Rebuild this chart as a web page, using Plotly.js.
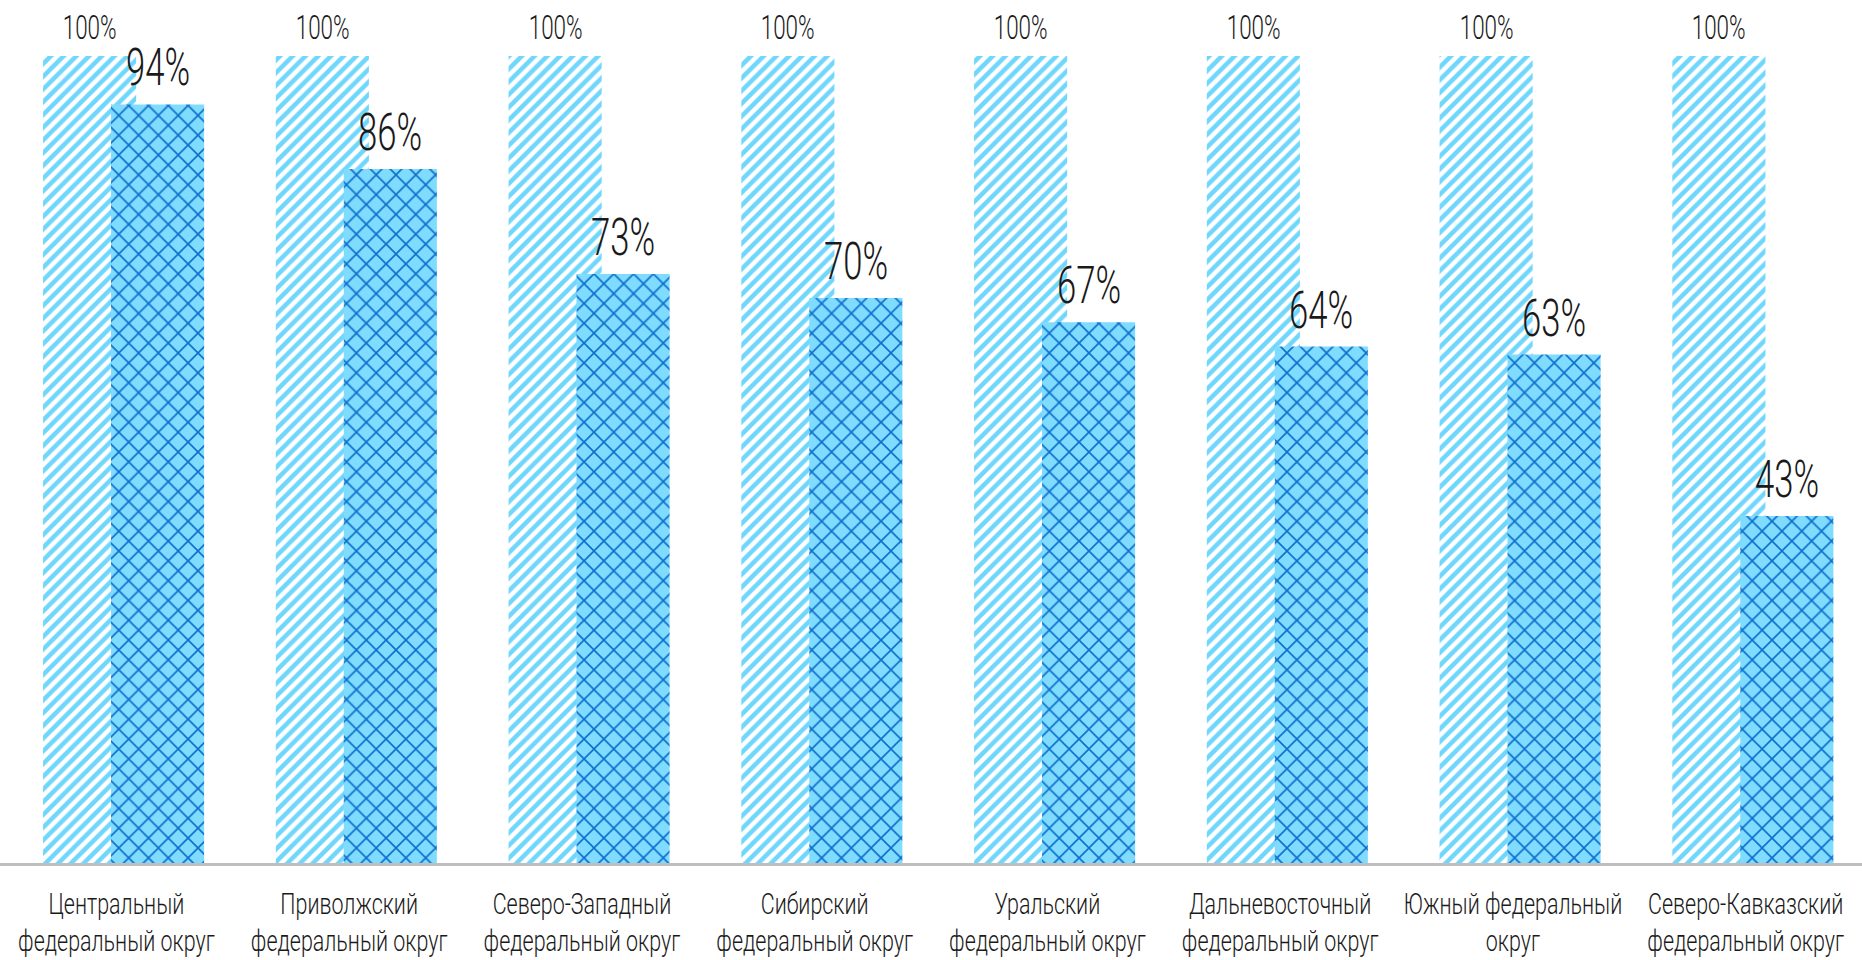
<!DOCTYPE html>
<html>
<head>
<meta charset="utf-8">
<script src="https://cdn.plot.ly/plotly-3.0.1.min.js"></script>
<style>
  html, body { margin: 0; padding: 0; background: #ffffff; }
  #chart { width: 1862px; height: 960px; }
  /* condensed look: narrow each text around its own centre */
  #chart text.annotation-text {
    transform-box: fill-box; transform-origin: 50% 50%; transform: scaleX(0.68);
  }
  #chart g.xtick {
    transform-box: fill-box; transform-origin: 50% 50%; transform: scaleX(0.74);
  }
</style>
</head>
<body>
<div id="chart"></div>
<script>
// ---- data ----
const categories = [
  "Центральный<br>федеральный округ",
  "Приволжский<br>федеральный округ",
  "Северо-Западный<br>федеральный округ",
  "Сибирский<br>федеральный округ",
  "Уральский<br>федеральный округ",
  "Дальневосточный<br>федеральный округ",
  "Южный федеральный<br>округ",
  "Северо-Кавказский<br>федеральный округ"
];
const baseValues = [100, 100, 100, 100, 100, 100, 100, 100];
const shareValues = [94, 86, 73, 70, 67, 64, 63, 43];

// ---- styles ----
const FONT = 'Roboto, "Liberation Sans", sans-serif';
const BAR_W = 0.40;
const OFF_BASE = -0.315;
const OFF_SHARE = -0.023;

const idx = categories.map((_, i) => i);

const traceBase = {
  type: 'bar',
  x: idx,
  y: baseValues,
  width: BAR_W,
  offset: OFF_BASE,
  marker: {
    color: '#6fd6fc',
    line: { width: 0 },
    pattern: { shape: '/', fgcolor: '#6fd6fc', bgcolor: '#ffffff', size: 9, solidity: 0.5, fillmode: 'replace' }
  },
  hoverinfo: 'skip',
  showlegend: false
};

const traceShare = {
  type: 'bar',
  x: idx,
  y: shareValues,
  width: BAR_W,
  offset: OFF_SHARE,
  marker: {
    color: '#80dcff',
    line: { width: 0 },
    pattern: { shape: 'x', fgcolor: '#0d6fcc', bgcolor: '#80dcff', size: 14, solidity: 0.22, fillmode: 'replace' }
  },
  hoverinfo: 'skip',
  showlegend: false
};

const annotations = [];
idx.forEach(i => {
  annotations.push({
    x: i + OFF_BASE + BAR_W / 2, y: baseValues[i], xref: 'x', yref: 'y',
    text: baseValues[i] + '%', showarrow: false, yanchor: 'bottom', yshift: 7,
    font: { family: FONT, size: 33, weight: 300, color: '#1a1a1a' }
  });
  annotations.push({
    x: i + OFF_SHARE + BAR_W / 2, y: shareValues[i], xref: 'x', yref: 'y',
    text: shareValues[i] + '%', showarrow: false, yanchor: 'bottom', yshift: 5,
    font: { family: FONT, size: 51, weight: 300, color: '#1a1a1a' }
  });
});

const layout = {
  width: 1862,
  height: 960,
  margin: { l: 0, r: 0, t: 56, b: 97, pad: 0 },
  paper_bgcolor: '#ffffff',
  plot_bgcolor: '#ffffff',
  barmode: 'overlay',
  xaxis: {
    type: 'linear',
    range: [-0.5, categories.length - 0.5],
    tickmode: 'array',
    tickvals: idx,
    ticktext: categories,
    tickangle: 0,
    automargin: false,
    ticklabeloverflow: 'allow',
    ticklabelstandoff: 13,
    showgrid: false,
    zeroline: false,
    showline: true,
    linecolor: '#bfbfbf',
    linewidth: 3,
    ticks: '',
    tickfont: { family: FONT, size: 29, weight: 300, color: '#1a1a1a' },
    fixedrange: true
  },
  yaxis: {
    range: [0, 100],
    visible: false,
    showgrid: false,
    zeroline: false,
    fixedrange: true
  },
  annotations: annotations,
  showlegend: false
};

Plotly.newPlot('chart', [traceBase, traceShare], layout, { displayModeBar: false, staticPlot: true });
</script>
</body>
</html>
